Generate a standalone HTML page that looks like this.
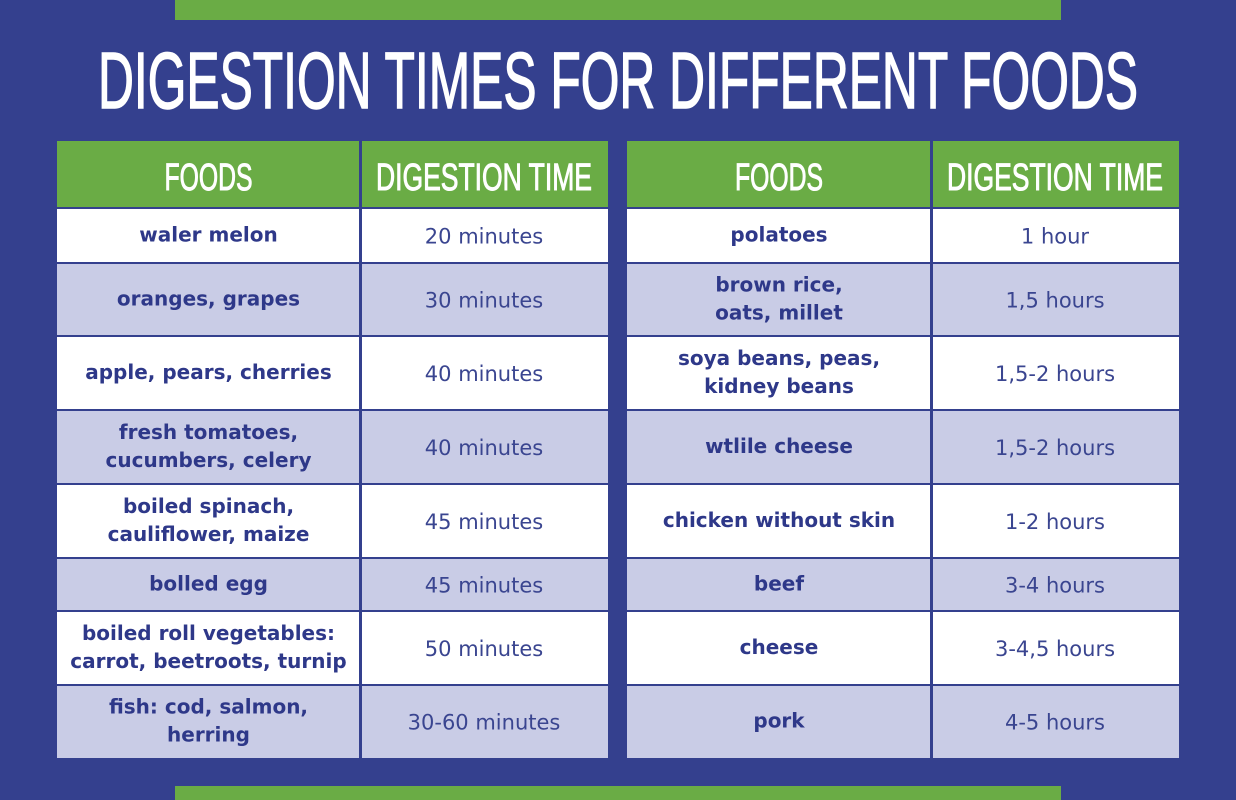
<!DOCTYPE html>
<html><head><meta charset="utf-8">
<style>
html,body{margin:0;padding:0;background:#34408e;}
svg{display:block;}
</style></head>
<body>
<svg id="s" width="1236" height="800" viewBox="0 0 1236 800" xmlns="http://www.w3.org/2000/svg">
<rect x="0" y="0" width="1236" height="800" fill="#34408e"/>
<rect x="175" y="0" width="886" height="20" fill="#6aac45"/>
<rect x="175" y="786" width="886" height="14" fill="#6aac45"/>
<text x="618" y="108" text-anchor="middle" fill="#ffffff" stroke="#ffffff" stroke-width="1.5" font-family="Liberation Sans, sans-serif" font-size="80" textLength="1040" lengthAdjust="spacingAndGlyphs">DIGESTION TIMES FOR DIFFERENT FOODS</text>
<g id="tables"></g>
</svg>
<script>
const rowEdges = [208, 263, 336, 410, 484, 558, 611, 685, 758];
const leftFoods = [["waler melon"],["oranges, grapes"],["apple, pears, cherries"],["fresh tomatoes,","cucumbers, celery"],["boiled spinach,","cauliflower, maize"],["bolled egg"],["boiled roll vegetables:","carrot, beetroots, turnip"],["fish: cod, salmon,","herring"]];
const leftTimes = ["20 minutes","30 minutes","40 minutes","40 minutes","45 minutes","45 minutes","50 minutes","30-60 minutes"];
const rightFoods = [["polatoes"],["brown rice,","oats, millet"],["soya beans, peas,","kidney beans"],["wtlile cheese"],["chicken without skin"],["beef"],["cheese"],["pork"]];
const rightTimes = ["1 hour","1,5 hours","1,5-2 hours","1,5-2 hours","1-2 hours","3-4 hours","3-4,5 hours","4-5 hours"];

const NS = "http://www.w3.org/2000/svg";
const g = document.getElementById('tables');
function mk(tag, attrs, parent){ const e=document.createElementNS(NS,tag); for(const k in attrs) e.setAttribute(k,attrs[k]); (parent||g).appendChild(e); return e; }

function table(x0, xDiv, x1, foods, times, side){
  const hdr = mk('rect',{x:x0,y:141,width:x1-x0,height:rowEdges[0]-141,fill:'#6aac45'});
  
  
  const h1 = mk('text',{x:(x0+xDiv)/2,y:190,'text-anchor':'middle',fill:'#fff',stroke:'#fff','stroke-width':'1','font-family':'Liberation Sans, sans-serif','font-size':'38',textLength:'88',lengthAdjust:'spacingAndGlyphs'});
  h1.textContent='FOODS';
  
  
  const h2 = mk('text',{x:(xDiv+x1)/2,y:190,'text-anchor':'middle',fill:'#fff',stroke:'#fff','stroke-width':'1','font-family':'Liberation Sans, sans-serif','font-size':'38',textLength:'216',lengthAdjust:'spacingAndGlyphs'});
  h2.textContent='DIGESTION TIME';
  
  
  for(let i=0;i<foods.length;i++){
    const y0=rowEdges[i], y1=rowEdges[i+1], cy=(y0+y1)/2;
    const r = mk('rect',{x:x0,y:y0,width:x1-x0,height:y1-y0,fill:i%2? '#c9cce6':'#ffffff'});
    
    
    const lines=foods[i];
    lines.forEach((ln,j)=>{
      const t = mk('text',{x:(x0+xDiv)/2,y:cy+6+(j-(lines.length-1)/2)*28,'text-anchor':'middle',fill:'#2e3889','font-family':'DejaVu Sans, sans-serif','font-weight':'bold','font-size':'20'});
      t.textContent=ln;
      
      
    });
    const tt = mk('text',{x:(xDiv+x1)/2,y:cy+8,'text-anchor':'middle',fill:'#3a4590','font-family':'DejaVu Sans, sans-serif','font-size':'21'});
    tt.textContent=times[i];
    
    
    if(i>0){ const l=mk('rect',{x:x0,y:y0-1,width:x1-x0,height:2,fill:'#34408e'});
      
       }
  }
  const top=mk('rect',{x:x0,y:rowEdges[0]-1,width:x1-x0,height:2,fill:'#34408e'});
  
  
  const d=mk('rect',{x:xDiv-1,y:141,width:3,height:rowEdges[rowEdges.length-1]-141,fill:'#34408e'});
  
  
}
table(57, 360, 608, leftFoods, leftTimes, 'left');
table(627, 931, 1179, rightFoods, rightTimes, 'right');
</script>
</body></html>
